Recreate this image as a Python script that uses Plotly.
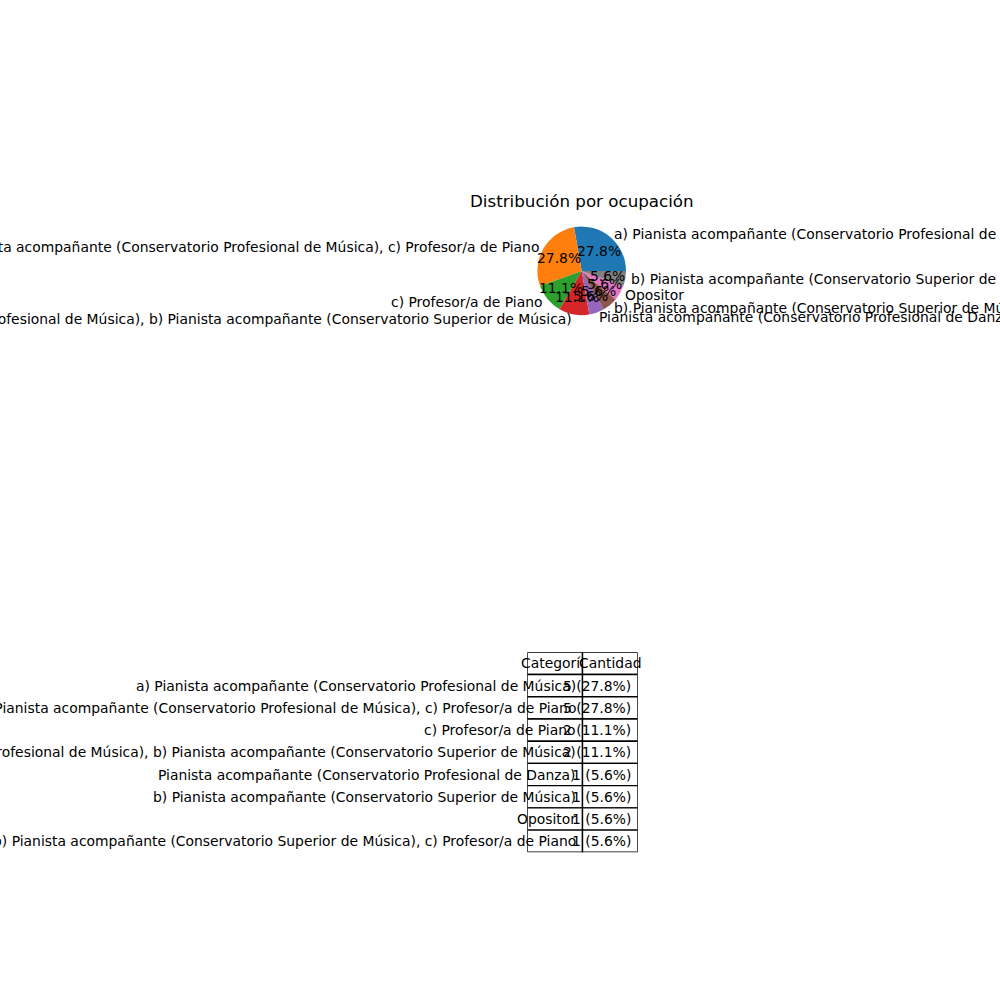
import math
import plotly.graph_objects as go

# ---- data ----
title_text = "Distribución por ocupación"
categories = [
    "a) Pianista acompañante (Conservatorio Profesional de Música)",
    "a) Pianista acompañante (Conservatorio Profesional de Música), c) Profesor/a de Piano",
    "c) Profesor/a de Piano",
    "a) Pianista acompañante (Conservatorio Profesional de Música), b) Pianista acompañante (Conservatorio Superior de Música)",
    "Pianista acompañante (Conservatorio Profesional de Danza)",
    "b) Pianista acompañante (Conservatorio Superior de Música)",
    "Opositor",
    "b) Pianista acompañante (Conservatorio Superior de Música), c) Profesor/a de Piano",
]
counts = [5, 5, 2, 2, 1, 1, 1, 1]
header = ["Categoría", "Cantidad"]
colors = ["#1f77b4", "#ff7f0e", "#2ca02c", "#d62728",
          "#9467bd", "#8c564b", "#e377c2", "#7f7f7f"]

FONT = "DejaVu Sans"
FS = 13.9
total = sum(counts)
pcts = [c / total * 100 for c in counts]

# geometry (layout)
pie_dom_x = [0.5374, 0.6260]
pie_dom_y = [0.6848, 0.7734]
tab_dom_x = [0.5273, 0.6377]
tab_dom_y = [0.1477, 0.3477]
cell_w_px = (tab_dom_x[1] - tab_dom_x[0]) * 1000 / 2
header0_text_px = 67.6  # approx rendered width of the first header text

# overlay axes for pie labels: twice the pie size, range [-2, 2] (radius = 1)
pcx = (pie_dom_x[0] + pie_dom_x[1]) / 2
pcy = (pie_dom_y[0] + pie_dom_y[1]) / 2
phw = (pie_dom_x[1] - pie_dom_x[0]) / 2
phh = (pie_dom_y[1] - pie_dom_y[0]) / 2
ov_dom_x = [pcx - 2 * phw, pcx + 2 * phw]
ov_dom_y = [pcy - 2 * phh, pcy + 2 * phh]

# plotly's counterclockwise pies start the first slice at rotation + slice angle;
# the first slice must begin at 3 o'clock (matplotlib startangle=0)
rotation = 90 - 360 * counts[0] / total

fig = go.Figure()

fig.add_trace(go.Pie(
    labels=categories, values=counts, sort=False,
    direction="counterclockwise", rotation=rotation,
    marker=dict(colors=colors, line=dict(width=0)),
    textinfo="none", hoverinfo="skip", showlegend=False,
    domain=dict(x=pie_dom_x, y=pie_dom_y),
))

# invisible anchors for the overlay axes
fig.add_trace(go.Scatter(x=[-2, 2], y=[-2, 2], xaxis="x2", yaxis="y2",
                         mode="markers", marker=dict(opacity=0),
                         hoverinfo="skip", showlegend=False))
nrows = len(categories) + 1
fig.add_trace(go.Scatter(x=[0, 2], y=[0, nrows], xaxis="x", yaxis="y",
                         mode="markers", marker=dict(opacity=0),
                         hoverinfo="skip", showlegend=False))

annotations = []
# pie labels and percentages
cum = 0
for cat, c, p in zip(categories, counts, pcts):
    mid = (cum + c / 2) / total * 2 * math.pi
    cum += c
    cx, cy = math.cos(mid), math.sin(mid)
    annotations.append(dict(
        x=1.1 * cx, y=1.1 * cy, xref="x2", yref="y2", text=cat,
        showarrow=False, xanchor="left" if cx > 0 else "right",
        yanchor="middle", borderpad=0,
        font=dict(family=FONT, size=FS, color="black")))
    annotations.append(dict(
        x=0.6 * cx, y=0.6 * cy, xref="x2", yref="y2", text=f"{p:.1f}%",
        showarrow=False, xanchor="center", yanchor="middle", borderpad=0,
        font=dict(family=FONT, size=FS, color="black")))

annotations.append(dict(
    x=pcx, y=0.799, xref="paper", yref="paper",
    text=title_text, showarrow=False, xanchor="center", yanchor="middle",
    font=dict(family=FONT, size=16.7, color="black")))

# table
shapes = []
for r in range(nrows):
    for col in range(2):
        shapes.append(dict(type="rect", xref="x", yref="y",
                           x0=col, x1=col + 1, y0=r, y1=r + 1,
                           line=dict(color="black", width=1.4),
                           fillcolor="white", layer="below"))
# first header: centered text, clipped at the next cell's edge
annotations.append(dict(
    x=1, y=0.5, xref="x", yref="y", text=header[0], showarrow=False,
    xanchor="right", yanchor="middle", borderpad=0, align="left",
    width=cell_w_px / 2 + header0_text_px / 2,
    font=dict(family=FONT, size=FS, color="black")))
annotations.append(dict(
    x=1.5, y=0.5, xref="x", yref="y", text=header[1], showarrow=False,
    xanchor="center", yanchor="middle", borderpad=0,
    font=dict(family=FONT, size=FS, color="black")))
for i, (cat, c, p) in enumerate(zip(categories, counts, pcts)):
    r = i + 1
    annotations.append(dict(
        x=0.9, y=r + 0.5, xref="x", yref="y", text=cat, showarrow=False,
        xanchor="right", yanchor="middle", borderpad=0,
        font=dict(family=FONT, size=FS, color="black")))
    annotations.append(dict(
        x=1.9, y=r + 0.5, xref="x", yref="y", text=f"{c} ({p:.1f}%)",
        showarrow=False, xanchor="right", yanchor="middle", borderpad=0,
        font=dict(family=FONT, size=FS, color="black")))

hidden = dict(visible=False, showgrid=False, zeroline=False, fixedrange=True)
fig.update_layout(
    width=1000, height=1000, margin=dict(l=0, r=0, t=0, b=0),
    paper_bgcolor="white", plot_bgcolor="rgba(0,0,0,0)",
    xaxis=dict(domain=tab_dom_x, range=[0, 2], **hidden),
    yaxis=dict(domain=tab_dom_y, range=[nrows, 0], **hidden),
    xaxis2=dict(domain=ov_dom_x, range=[-2, 2], anchor="y2", **hidden),
    yaxis2=dict(domain=ov_dom_y, range=[-2, 2], anchor="x2", **hidden),
    annotations=annotations, shapes=shapes, showlegend=False,
)
fig.write_html("out.html")
